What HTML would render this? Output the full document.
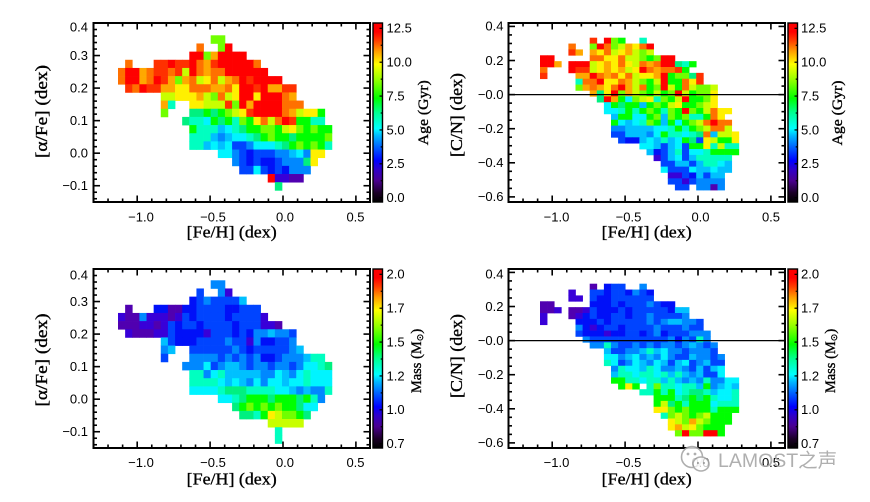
<!DOCTYPE html>
<html><head><meta charset="utf-8"><title>chart</title>
<style>
html,body{margin:0;padding:0;background:#fff;width:870px;height:502px;overflow:hidden}
svg{display:block}
.t{font-family:"Liberation Sans",Arial,sans-serif;font-size:13px;fill:#000}
.s{font-family:"Liberation Serif","Times New Roman",serif;fill:#000;stroke:#000;stroke-width:0.35}
</style></head><body>
<svg width="870" height="502" viewBox="0 0 870 502" xmlns="http://www.w3.org/2000/svg">
<defs><linearGradient id="cb" x1="0" y1="1" x2="0" y2="0">
<stop offset="0" stop-color="#000000"/>
<stop offset="0.05" stop-color="#1a0026"/>
<stop offset="0.12" stop-color="#4a0090"/>
<stop offset="0.18" stop-color="#3000c8"/>
<stop offset="0.23" stop-color="#0000ff"/>
<stop offset="0.31" stop-color="#0066ff"/>
<stop offset="0.37" stop-color="#00b8ff"/>
<stop offset="0.41" stop-color="#00ffff"/>
<stop offset="0.50" stop-color="#00ff90"/>
<stop offset="0.58" stop-color="#00ff00"/>
<stop offset="0.68" stop-color="#90ff00"/>
<stop offset="0.77" stop-color="#ffff00"/>
<stop offset="0.84" stop-color="#ffa000"/>
<stop offset="0.90" stop-color="#ff4000"/>
<stop offset="0.95" stop-color="#ff0000"/>
<stop offset="1" stop-color="#ff0000"/>
</linearGradient></defs>
<g id="cells"></g>
<g id="axes"></g>

<!-- top-left y labels -->
<text class="t" x="88" y="31.5" text-anchor="end">0.4</text>
<text class="t" x="88" y="59.8" text-anchor="end">0.3</text>
<text class="t" x="88" y="92.4" text-anchor="end">0.2</text>
<text class="t" x="88" y="124.9" text-anchor="end">0.1</text>
<text class="t" x="88" y="157.5" text-anchor="end">0.0</text>
<text class="t" x="88" y="190" text-anchor="end">−0.1</text>
<!-- bottom-left y labels -->
<text class="t" x="88" y="279.3" text-anchor="end">0.4</text>
<text class="t" x="88" y="305.8" text-anchor="end">0.3</text>
<text class="t" x="88" y="338.4" text-anchor="end">0.2</text>
<text class="t" x="88" y="370.9" text-anchor="end">0.1</text>
<text class="t" x="88" y="403.5" text-anchor="end">0.0</text>
<text class="t" x="88" y="436" text-anchor="end">−0.1</text>
<!-- top-right y labels -->
<text class="t" x="503.5" y="30.7" text-anchor="end">0.4</text>
<text class="t" x="503.5" y="64.8" text-anchor="end">0.2</text>
<text class="t" x="503.5" y="98.9" text-anchor="end">−0.0</text>
<text class="t" x="503.5" y="133" text-anchor="end">−0.2</text>
<text class="t" x="503.5" y="167.1" text-anchor="end">−0.4</text>
<text class="t" x="503.5" y="201.2" text-anchor="end">−0.6</text>
<!-- bottom-right y labels -->
<text class="t" x="503.5" y="278.5" text-anchor="end">0.4</text>
<text class="t" x="503.5" y="310.8" text-anchor="end">0.2</text>
<text class="t" x="503.5" y="344.9" text-anchor="end">−0.0</text>
<text class="t" x="503.5" y="379" text-anchor="end">−0.2</text>
<text class="t" x="503.5" y="413.1" text-anchor="end">−0.4</text>
<text class="t" x="503.5" y="447.2" text-anchor="end">−0.6</text>

<!-- x labels -->
<text class="t" x="141" y="221.5" text-anchor="middle">−1.0</text>
<text class="t" x="213" y="221.5" text-anchor="middle">−0.5</text>
<text class="t" x="285" y="221.5" text-anchor="middle">0.0</text>
<text class="t" x="355.5" y="221.5" text-anchor="middle">0.5</text>
<text class="t" x="556.5" y="221.5" text-anchor="middle">−1.0</text>
<text class="t" x="628.5" y="221.5" text-anchor="middle">−0.5</text>
<text class="t" x="700.5" y="221.5" text-anchor="middle">0.0</text>
<text class="t" x="771" y="221.5" text-anchor="middle">0.5</text>
<text class="t" x="141" y="467" text-anchor="middle">−1.0</text>
<text class="t" x="213" y="467" text-anchor="middle">−0.5</text>
<text class="t" x="285" y="467" text-anchor="middle">0.0</text>
<text class="t" x="355.5" y="467" text-anchor="middle">0.5</text>
<text class="t" x="556.5" y="467" text-anchor="middle">−1.0</text>
<text class="t" x="628.5" y="467" text-anchor="middle">−0.5</text>
<text class="t" x="700.5" y="467" text-anchor="middle">0.0</text>
<text class="t" x="771" y="467" text-anchor="middle">0.5</text>

<!-- colorbar labels -->
<text class="t" x="386.5" y="32.6">12.5</text>
<text class="t" x="386.5" y="66.5">10.0</text>
<text class="t" x="386.5" y="100.4">7.5</text>
<text class="t" x="386.5" y="134.3">5.0</text>
<text class="t" x="386.5" y="168.2">2.5</text>
<text class="t" x="386.5" y="202.1">0.0</text>
<text class="t" x="801" y="32.6">12.5</text>
<text class="t" x="801" y="66.5">10.0</text>
<text class="t" x="801" y="100.4">7.5</text>
<text class="t" x="801" y="134.3">5.0</text>
<text class="t" x="801" y="168.2">2.5</text>
<text class="t" x="801" y="202.1">0.0</text>
<text class="t" x="386.5" y="278.6">2.0</text>
<text class="t" x="386.5" y="312.5">1.7</text>
<text class="t" x="386.5" y="346.4">1.5</text>
<text class="t" x="386.5" y="380.3">1.2</text>
<text class="t" x="386.5" y="414.2">1.0</text>
<text class="t" x="386.5" y="448.1">0.7</text>
<text class="t" x="801" y="278.6">2.0</text>
<text class="t" x="801" y="312.5">1.7</text>
<text class="t" x="801" y="346.4">1.5</text>
<text class="t" x="801" y="380.3">1.2</text>
<text class="t" x="801" y="414.2">1.0</text>
<text class="t" x="801" y="448.1">0.7</text>

<!-- axis titles -->
<text class="s" x="231.7" y="237.7" font-size="17" text-anchor="middle" textLength="90" lengthAdjust="spacingAndGlyphs">[Fe/H] (dex)</text>
<text class="s" x="646.7" y="237.7" font-size="17" text-anchor="middle" textLength="90" lengthAdjust="spacingAndGlyphs">[Fe/H] (dex)</text>
<text class="s" x="231.7" y="484.3" font-size="17" text-anchor="middle" textLength="90" lengthAdjust="spacingAndGlyphs">[Fe/H] (dex)</text>
<text class="s" x="646.7" y="484.3" font-size="17" text-anchor="middle" textLength="90" lengthAdjust="spacingAndGlyphs">[Fe/H] (dex)</text>
<text class="s" transform="translate(47,111.5) rotate(-90)" font-size="17" text-anchor="middle" textLength="93" lengthAdjust="spacingAndGlyphs">[α/Fe] (dex)</text>
<text class="s" transform="translate(47,360) rotate(-90)" font-size="17" text-anchor="middle" textLength="93" lengthAdjust="spacingAndGlyphs">[α/Fe] (dex)</text>
<text class="s" transform="translate(462,115) rotate(-90)" font-size="17" text-anchor="middle" textLength="84" lengthAdjust="spacingAndGlyphs">[C/N] (dex)</text>
<text class="s" transform="translate(462,356) rotate(-90)" font-size="17" text-anchor="middle" textLength="84" lengthAdjust="spacingAndGlyphs">[C/N] (dex)</text>
<text class="s" transform="translate(428,112.7) rotate(-90)" font-size="14.5" text-anchor="middle" textLength="65" lengthAdjust="spacingAndGlyphs">Age (Gyr)</text>
<text class="s" transform="translate(842,113) rotate(-90)" font-size="14.5" text-anchor="middle" textLength="65" lengthAdjust="spacingAndGlyphs">Age (Gyr)</text>
<text class="s" transform="translate(421,361) rotate(-90)" font-size="14.5" text-anchor="middle">Mass (M<tspan font-size="9" dy="2">⊙</tspan><tspan dy="-2">)</tspan></text>
<text class="s" transform="translate(835,361) rotate(-90)" font-size="14.5" text-anchor="middle">Mass (M<tspan font-size="9" dy="2">⊙</tspan><tspan dy="-2">)</tspan></text>

<!-- watermark -->
<g opacity="0.92">
<circle cx="692" cy="457" r="10.5" fill="#fff" fill-opacity="0.85" stroke="#a8a8a8" stroke-width="1.6"/>
<ellipse cx="701" cy="464" rx="8" ry="7" fill="#fff" fill-opacity="0.85" stroke="#a8a8a8" stroke-width="1.6"/>
<circle cx="688" cy="454" r="1.4" fill="#a8a8a8"/>
<circle cx="695" cy="454" r="1.4" fill="#a8a8a8"/>
<circle cx="698" cy="463" r="1.1" fill="#a8a8a8"/>
<circle cx="704" cy="463" r="1.1" fill="#a8a8a8"/>
</g>
<text x="718" y="467" font-family="Liberation Sans, Noto Sans CJK SC, sans-serif" font-size="19.5" fill="#a8a8a8" fill-opacity="0.92">LAMOST之声</text>
</svg>
<script>
(function(){
var PAL={R:'#ff0000',r:'#ff3000',O:'#ff7000',o:'#ffa800',Y:'#fff000',y:'#c8ff00',L:'#70ff00',G:'#00ff00',g:'#00f080',T:'#00ffc0',C:'#00f4ff',c:'#00c0ff',B:'#0088ff',b:'#0044ff',D:'#0010f8',P:'#3800d8',p:'#5000b0'};
function grid(x0,y0,w,h,rows){var s='';rows.forEach(function(r,ri){if(!r)return;var st=r[0],str=r[1];for(var i=0;i<str.length;i++){var ch=str[i];if(!PAL[ch])continue;var x=x0+(st+i)*w,y=y0+ri*h;s+='<rect x="'+x.toFixed(2)+'" y="'+y.toFixed(2)+'" width="'+(w+0.35).toFixed(2)+'" height="'+(h+0.35).toFixed(2)+'" fill="'+PAL[ch]+'"/>';}});return s;}
var P1=[[13,"LL"],[11,"O..LR"],[10,"RRLoRRRR"],[1,"O...rrRrrROorRRRRRO"],[0,"ORRoOrrOryROoOORRRRRR"],[0,"ORRoORroLoOyYOyoORrRRRR"],[1,"rORrrooYYOOOooOYRRrRoorr"],[6,"yyYYYoyLOyYRRYRRROo"],[6,"oT..YYyyyrLRoRRRROOO"],[6,"L...ggGgGLyYrRRRROoyYYG"],[9,"gTTCGgGTLGYOyORrGGTT"],[10,"GTTTcCTgGGLLGyYLGLGG"],[10,"TTTcBcCCTgGLGGgGGGGL"],[10,"TTcCcCbbBCCCTgGLGLGT"],[14,"CCBbDbbbBBcCBYY"],[16,"BbDbDDbBBBgY"],[17,"bbCbDbDBBB"],[21,"RPPpp"],[22,"g"]];
var P2=[[7,"r.RLG..T"],[4,"O..LROLyoYOR"],[4,"ro.oYOyYoyLy"],[0,"RR.....OOYYOyyLGLRR"],[0,"RRo.RRRyYoYOYyOoORRgTG"],[0,"O...RrryYoYoyYROoOOrG"],[0,"r....ooROoOYOyYYoRGLLgr"],[5,"TOORYYOoyLGyRGGOYr"],[5,"LoOoYORoyOGLRyGOyLLy"],[7,"ogYRLoyLGyGLRyGLLY"],[8,"gRoGCLyYTLGyRGGLY"],[9,"CGgGGcGLGyYGGLyY"],[9,"CCTGTGLGTLGRLGyOYY"],[10,"cGGCCGLcLGLTTGOY"],[10,"GCcCTLGcGCGLyOROO"],[10,"BBccccCCTGTGLyOOy"],[10,"bbcccBCGTTCTgOcyyY"],[11,"bDDcCcTcCGgbYyGGY"],[14,"CCcbcCbGGYTyTT"],[15,"cDbcTbCCTGGGG"],[16,"PbcCbcTTTTT"],[17,"bbccbcTTCc"],[17,"CbbbCccCcc"],[18,"PPbDcbcc"],[18,"bbPbBBBB"],[19,"bb.BBpB"]];
var P3=[[13,"BB"],[11,"b..BP"],[10,"DbBbbbbc"],[1,"p...DDppDDbbbbDDbbb"],[0,"PppBPPPpPbDbbbbDbbbbP"],[0,"pppPPpPbDbbDbbbbDbbbPPp"],[1,"PpppPPbDDDDPbbbDbDBBcBBb"],[6,"cbDDDbbbbBbbPBDDbbB"],[6,"Bc..bbbbbbBbDbbbbbBc"],[6,"b...BBBBbBbBbBDDbBBBcTT"],[9,"BBBCbBccBbBBbBBbBCCTg"],[10,"TTBCTcccccBBCcBCTCCC"],[10,"TTTTCcCcBCBCCcCCTCCC"],[10,"CCCCTgggTTTTCCcBcBBT"],[14,"CCTgGGGgGGGgGTB"],[16,"gGLGLGLGGgCC"],[17,"ggTGYyLLGg"],[21,"yyyyy"],[22,"T"],[22,"T"]];
var P4=[[7,"p.Dbb..B"],[4,"P..bbDbbDBbD"],[4,"PP.bDDbbbbbb"],[0,"pp.....DDDbDbbbBbDD"],[0,"ppP.ppPbDDDbDbbbbbDcc"],[0,"P...pPDbDDbbDbbBbbbbB"],[0,"P....DDDbDbbbbbBbBccBBb"],[5,"BDPDbbDbbbbBbbbBbb"],[5,"bDDDPDDbbDbBDbbbBBB"],[6,"BbbbbbbbbbbbBDBbTB"],[7,"BBTBbbBbBbBBbBcBbB"],[9,"cbbBBcTcCBBbBBBb"],[9,"CCBcCBcBCBbbcBBbB"],[9,"TCbBCcBCcbcCbBcbb"],[10,"BTCCcTCBBcBbcbcC"],[10,"cTTCTTCTcTcBcbbC"],[10,"GGTTCTTcTcBcBTBBCC"],[11,"GYG.TLTTCTTcGBcCc"],[14,"TTGTGCTggTcCCT"],[16,"GGGTgGgGTCCT"],[16,"GygGTGGGCTTT"],[16,"YYLGLGGGTGGG"],[17,"TLyLGLyGGG"],[18,"YyLoyLGGG"],[18,"YoyYLGGG"],[19,"LRLLRRG"]];
var s=grid(118,35.3,7.13,8.16,P1)+grid(540,37.7,7.1,5.86,P2)+grid(118,280.3,7.13,8.16,P3)+grid(540,283.7,7.1,5.86,P4);
document.getElementById('cells').innerHTML=s;
var a='';
function ln(x1,y1,x2,y2,w){a+='<line x1="'+x1.toFixed(2)+'" y1="'+y1.toFixed(2)+'" x2="'+x2.toFixed(2)+'" y2="'+y2.toFixed(2)+'" stroke="#000" stroke-width="'+(w||1.6)+'"/>';}
ln(508.5,94.6,785,94.6,1.2);
ln(508.5,340.6,785,340.6,1.2);
function panel(ox,oy,right){
 var L=93.5+ox,R=370+ox,T=23+oy,B=202+oy,k,x,y,len,v;
 for(k=-13;k<=6;k++){x=283+145.8*k/10+ox;if(x<L+1.5||x>R-1.5)continue;len=(k%5===0)?6.5:3.5;ln(x,B,x,B-len);ln(x,T,x,T+len);}
 if(!right){for(k=-7;k<=20;k++){v=k*0.02;y=23+(0.4-v)*325.45+oy;if(y<T+1.5||y>B-1.5)continue;len=(k%5===0)?6.5:3.5;ln(L,y,L+len,y);ln(R,y,R-len,y);}}
 else{for(k=-12;k<=8;k++){v=k*0.05;y=23+(0.42-v)*170.48+oy;if(y<T+1.5||y>B-1.5)continue;len=(k%4===0)?6.5:3.5;ln(L,y,L+len,y);ln(R,y,R-len,y);}}
 a+='<rect x="'+L+'" y="'+T+'" width="'+(R-L)+'" height="'+(B-T)+'" fill="none" stroke="#000" stroke-width="2"/>';
 var cx=right?788:373;
 a+='<rect x="'+cx+'" y="'+T+'" width="9.5" height="'+(B-T)+'" fill="url(#cb)" stroke="#000" stroke-width="1.4"/>';
 for(k=0;k<=10;k++){y=197.7-k*1.25*13.55+oy;if(y<T+1||y>B-1)continue;len=(k%2===0)?3:1.8;ln(cx+9.5,y,cx+9.5-len,y,1.2);}
}
panel(0,0,false);panel(415,0,true);panel(0,246,false);panel(415,246,true);
document.getElementById('axes').innerHTML=a;
})();
</script>
</body></html>
